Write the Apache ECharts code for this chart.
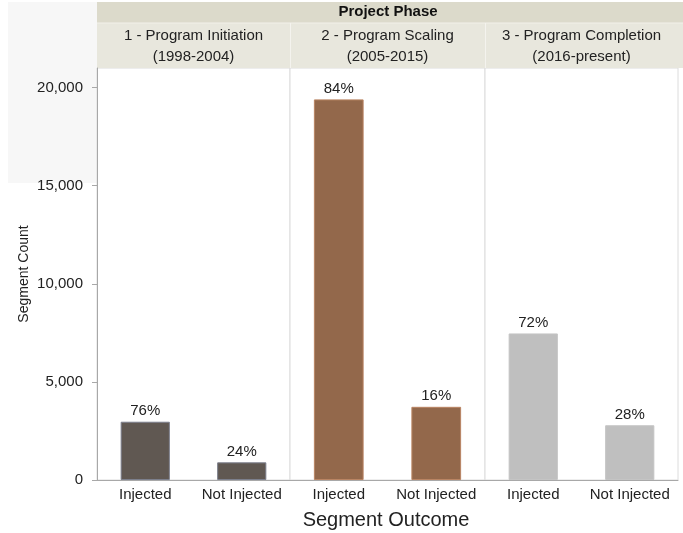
<!DOCTYPE html>
<html>
<head>
<meta charset="utf-8">
<script src="https://cdn.jsdelivr.net/npm/echarts@6/dist/echarts.min.js"></script>
<style>
html,body{margin:0;padding:0;background:#fff;}
#chart{width:683px;height:533px;}
</style>
</head>
<body>
<div id="chart"></div>
<script>
// ---- data ----
const phaseTitle = 'Project Phase';
const phases = ['1 - Program Initiation\n(1998-2004)', '2 - Program Scaling\n(2005-2015)', '3 - Program Completion\n(2016-present)'];
const outcomes = ['Injected', 'Not Injected'];
const injected = [2970, 19400, 7470];
const notInjected = [900, 3730, 2790];
const pctInjected = ['76%', '84%', '72%'];
const pctNotInjected = ['24%', '16%', '28%'];
const phaseColors = ['#605852', '#93684b', '#bfbfbf'];
const phaseBorders = ['#7c7f8c', '#b98463', '#c4c4c4'];
const yTicks = [0, 5000, 10000, 15000, 20000];
const yName = 'Segment Count';
const xName = 'Segment Outcome';

// ---- layout ----
const FONT = '"Liberation Sans", Arial, sans-serif';
const panelLeft = [97, 290, 485];
const panelWidth = [193, 195, 193];
const gridTop = 68, gridBottomY = 480;
const yMax = 21000;

const chart = echarts.init(document.getElementById('chart'), null, {renderer: 'canvas'});

const grids = [], xAxes = [], yAxes = [], series = [];
phases.forEach((p, i) => {
  grids.push({
    left: panelLeft[i], top: gridTop, width: panelWidth[i], height: gridBottomY - gridTop,
    show: true, backgroundColor: '#ffffff', borderColor: '#dcdcdc', borderWidth: 1
  });
  xAxes.push({
    type: 'category', gridIndex: i, data: outcomes,
    axisLine: {show: true, lineStyle: {color: '#a8a8a8', width: 1}},
    axisTick: {show: false},
    axisLabel: {color: '#222', fontSize: 15, fontFamily: FONT, margin: 7, interval: 0}
  });
  yAxes.push({
    type: 'value', gridIndex: i, min: 0, max: yMax,
    show: i === 0,
    name: i === 0 ? yName : '',
    nameLocation: 'middle', nameGap: 66,
    nameTextStyle: {color: '#222', fontSize: 14, fontFamily: FONT},
    axisLine: {show: true, lineStyle: {color: '#a8a8a8', width: 1}},
    axisTick: {show: true, length: 5, lineStyle: {color: '#a8a8a8'}, customValues: yTicks},
    axisLabel: {color: '#222', fontSize: 15, fontFamily: FONT, margin: 14, customValues: yTicks,
      formatter: v => v.toLocaleString('en-US')},
    splitLine: {show: false}
  });
  const pcts = [pctInjected[i], pctNotInjected[i]];
  series.push({
    type: 'bar', xAxisIndex: i, yAxisIndex: i,
    data: [injected[i], notInjected[i]],
    barWidth: '51%',
    itemStyle: {color: phaseColors[i], borderColor: phaseBorders[i], borderWidth: 1},
    label: {show: true, position: 'top', distance: 3, color: '#222', fontSize: 15, fontFamily: FONT,
      formatter: prm => pcts[prm.dataIndex]},
    silent: true
  });
});

const graphics = [
  {type: 'rect', shape: {x: 8, y: 2, width: 89, height: 181}, style: {fill: '#f7f7f7'}, z: -10},
  {type: 'rect', shape: {x: 97, y: 2, width: 586, height: 21}, style: {fill: '#dcdacb'}},
  {type: 'rect', shape: {x: 97, y: 23, width: 586, height: 45}, style: {fill: '#e8e7dd'}},
  {type: 'line', shape: {x1: 97, y1: 23, x2: 683, y2: 23}, style: {stroke: '#f2f1ea', lineWidth: 1}},
  {type: 'line', shape: {x1: 290.5, y1: 23, x2: 290.5, y2: 68}, style: {stroke: '#f4f3ee', lineWidth: 1}},
  {type: 'line', shape: {x1: 485.5, y1: 23, x2: 485.5, y2: 68}, style: {stroke: '#f4f3ee', lineWidth: 1}},
  {type: 'text', x: 388, y: 12, style: {text: phaseTitle, font: 'bold 15px ' + FONT, fill: '#111', textAlign: 'center', textVerticalAlign: 'middle'}},
  {type: 'text', x: 386, y: 520, style: {text: xName, font: '20px ' + FONT, fill: '#222', textAlign: 'center', textVerticalAlign: 'middle'}}
];
phases.forEach((p, i) => {
  graphics.push({type: 'text', x: panelLeft[i] + panelWidth[i] / 2, y: 46,
    style: {text: p, font: '15px ' + FONT, fill: '#222', textAlign: 'center', textVerticalAlign: 'middle', lineHeight: 21}});
});

chart.setOption({
  animation: false,
  backgroundColor: '#ffffff',
  grid: grids, xAxis: xAxes, yAxis: yAxes, series: series,
  graphic: graphics
});
</script>
</body>
</html>
